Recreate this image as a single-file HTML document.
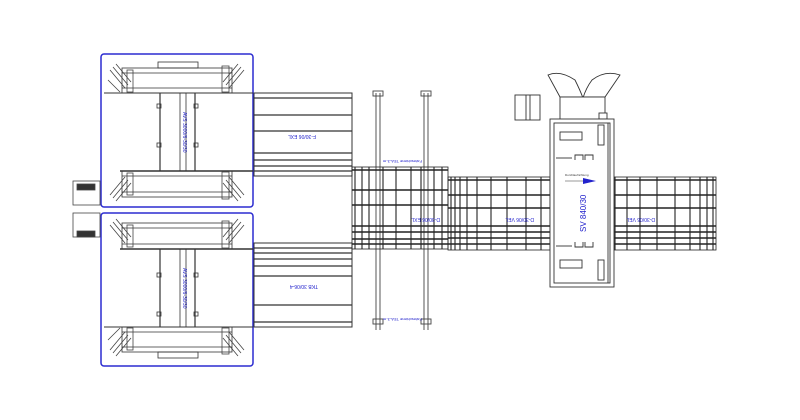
<!DOCTYPE html>
<html><head><meta charset="utf-8"><style>
html,body{margin:0;padding:0;background:#fff;width:800px;height:420px;overflow:hidden}
svg{display:block}
text{font-family:"Liberation Sans",sans-serif}
</style></head><body>
<svg width="800" height="420" viewBox="0 0 800 420" xmlns="http://www.w3.org/2000/svg">
<defs>
<g id="unit" fill="none" stroke="#333" stroke-width="0.8">
  <rect x="122" y="68" width="110" height="25"/>
  <line x1="122" y1="73" x2="232" y2="73"/>
  <line x1="122" y1="88" x2="232" y2="88"/>
  <rect x="158" y="62" width="40" height="6"/>
  <g stroke="#444">
    <path d="M110 70 L125 88 M113 67 L128 85 M116 64 L131 82 M108 80 L120 92"/>
    <rect x="127" y="70" width="6" height="22"/>
    <path d="M244 70 L229 88 M241 67 L226 85 M238 64 L223 82"/>
    <rect x="222" y="66" width="7" height="26"/>
  </g>
  <rect x="122" y="171" width="110" height="26"/>
  <line x1="122" y1="176" x2="232" y2="176"/>
  <line x1="122" y1="192" x2="232" y2="192"/>
  <line x1="120" y1="171" x2="253" y2="171" stroke-width="1.4"/>
  <g stroke="#444">
    <path d="M110 195 L125 177 M113 198 L128 180 M116 201 L131 183"/>
    <rect x="127" y="173" width="6" height="22"/>
    <path d="M244 195 L229 177 M241 198 L226 180 M238 201 L223 183"/>
    <rect x="222" y="172" width="7" height="27"/>
  </g>
  <line x1="160" y1="93" x2="160" y2="171" stroke-width="1.2"/>
  <line x1="180" y1="93" x2="180" y2="171"/>
  <line x1="186" y1="93" x2="186" y2="171"/>
  <line x1="195" y1="93" x2="195" y2="171" stroke-width="1.2"/>
  <rect x="157" y="104" width="4" height="4"/><rect x="157" y="143" width="4" height="4"/>
  <rect x="194" y="104" width="4" height="4"/><rect x="194" y="143" width="4" height="4"/>
  <line x1="104" y1="93" x2="253" y2="93" stroke-width="1"/>
</g>
</defs>

<rect x="101" y="54" width="152" height="153" rx="3" fill="none" stroke="#2b2bd0" stroke-width="1.5"/>
<use href="#unit"/>
<text x="0" y="0" transform="translate(183,112) rotate(90)" font-size="5" fill="#2222cc">AVS 3000/6-30/30</text>

<rect x="101" y="213" width="152" height="153" rx="3" fill="none" stroke="#2b2bd0" stroke-width="1.5"/>
<use href="#unit" transform="translate(0,420) scale(1,-1)"/>
<text x="0" y="0" transform="translate(183,268) rotate(90)" font-size="5" fill="#2222cc">AVS 3000/6-30/30</text>

<g fill="none" stroke="#444" stroke-width="0.8">
<rect x="73" y="181" width="27" height="24"/><rect x="77" y="184" width="18" height="6" fill="#333"/>
<rect x="73" y="213" width="27" height="24"/><rect x="77" y="231" width="18" height="6" fill="#333"/>
</g>

<g stroke="#333" fill="none">
<rect x="254" y="93" width="98" height="83" stroke-width="1"/>
<g stroke-width="1.3">
<line x1="254" y1="98" x2="352" y2="98"/><line x1="254" y1="115" x2="352" y2="115"/>
<line x1="254" y1="131" x2="352" y2="131"/><line x1="254" y1="153" x2="352" y2="153"/>
<line x1="254" y1="160" x2="352" y2="160"/><line x1="254" y1="166" x2="352" y2="166"/>
<line x1="254" y1="171" x2="352" y2="171"/>
</g>
<rect x="254" y="243" width="98" height="84" stroke-width="1"/>
<g stroke-width="1.3">
<line x1="254" y1="248" x2="352" y2="248"/><line x1="254" y1="253" x2="352" y2="253"/>
<line x1="254" y1="259" x2="352" y2="259"/><line x1="254" y1="266" x2="352" y2="266"/>
<line x1="254" y1="276" x2="352" y2="276"/><line x1="254" y1="305" x2="352" y2="305"/>
<line x1="254" y1="322" x2="352" y2="322"/>
</g>
</g>
<text transform="translate(316,135) rotate(180)" font-size="5" fill="#2222cc">F-30/06 EXL</text>
<text transform="translate(318,285) rotate(180)" font-size="5" fill="#2222cc">TKB 30/06-4</text>

<g stroke="#444" fill="none" stroke-width="0.9">
<line x1="376" y1="93" x2="376" y2="330"/><line x1="380" y1="93" x2="380" y2="330"/>
<line x1="424" y1="93" x2="424" y2="330"/><line x1="428" y1="93" x2="428" y2="330"/>
<rect x="373" y="91" width="10" height="5"/><rect x="421" y="91" width="10" height="5"/>
<rect x="373" y="319" width="10" height="5"/><rect x="421" y="319" width="10" height="5"/>
</g>
<text transform="translate(422,160) rotate(180)" font-size="4" fill="#2222cc">Fahrschiene TEA-3-m</text>
<text transform="translate(422,318) rotate(180)" font-size="4" fill="#2222cc">Fahrschiene TEA-3-m</text>

<g stroke="#222" fill="none">
<rect x="352" y="167" width="96" height="82" stroke-width="0.8"/>
<g stroke-width="1.1">
<line x1="355" y1="167" x2="355" y2="249"/><line x1="362" y1="167" x2="362" y2="249"/><line x1="369" y1="167" x2="369" y2="249"/>
<line x1="383" y1="167" x2="383" y2="249"/><line x1="396" y1="167" x2="396" y2="249"/><line x1="411" y1="167" x2="411" y2="249"/>
<line x1="421" y1="167" x2="421" y2="249"/><line x1="434" y1="167" x2="434" y2="249"/><line x1="442" y1="167" x2="442" y2="249"/>
</g>
<g stroke-width="1.6">
<line x1="352" y1="170" x2="448" y2="170"/><line x1="352" y1="190" x2="448" y2="190"/><line x1="352" y1="205" x2="448" y2="205"/>
<line x1="352" y1="226" x2="448" y2="226"/><line x1="352" y1="232" x2="448" y2="232"/><line x1="352" y1="239" x2="448" y2="239"/><line x1="352" y1="244" x2="448" y2="244"/>
</g>
<rect x="448" y="177" width="102" height="73" stroke-width="0.8"/>
<g stroke-width="1.1">
<line x1="451" y1="177" x2="451" y2="250"/><line x1="455" y1="177" x2="455" y2="250"/><line x1="460" y1="177" x2="460" y2="250"/>
<line x1="467" y1="177" x2="467" y2="250"/><line x1="477" y1="177" x2="477" y2="250"/><line x1="491" y1="177" x2="491" y2="250"/>
<line x1="507" y1="177" x2="507" y2="250"/><line x1="526" y1="177" x2="526" y2="250"/><line x1="541" y1="177" x2="541" y2="250"/>
</g>
<g stroke-width="1.6">
<line x1="448" y1="180" x2="550" y2="180"/><line x1="448" y1="195" x2="550" y2="195"/><line x1="448" y1="208" x2="550" y2="208"/>
<line x1="448" y1="226" x2="550" y2="226"/><line x1="448" y1="232" x2="550" y2="232"/><line x1="448" y1="238" x2="550" y2="238"/><line x1="448" y1="244" x2="550" y2="244"/>
</g>
<rect x="612" y="177" width="104" height="73" stroke-width="0.8"/>
<g stroke-width="1.1">
<line x1="615" y1="177" x2="615" y2="250"/><line x1="627" y1="177" x2="627" y2="250"/><line x1="640" y1="177" x2="640" y2="250"/>
<line x1="657" y1="177" x2="657" y2="250"/><line x1="675" y1="177" x2="675" y2="250"/><line x1="690" y1="177" x2="690" y2="250"/>
<line x1="700" y1="177" x2="700" y2="250"/><line x1="707" y1="177" x2="707" y2="250"/><line x1="713" y1="177" x2="713" y2="250"/>
</g>
<g stroke-width="1.6">
<line x1="612" y1="180" x2="716" y2="180"/><line x1="612" y1="195" x2="716" y2="195"/><line x1="612" y1="208" x2="716" y2="208"/>
<line x1="612" y1="226" x2="716" y2="226"/><line x1="612" y1="232" x2="716" y2="232"/><line x1="612" y1="238" x2="716" y2="238"/><line x1="612" y1="244" x2="716" y2="244"/>
</g>
</g>
<text transform="translate(440,218) rotate(180)" font-size="5" fill="#2222cc">D-30/06 EXL</text>
<text transform="translate(534,218) rotate(180)" font-size="5" fill="#2222cc">D-30/06 VEL</text>
<text transform="translate(655,218) rotate(180)" font-size="5" fill="#2222cc">D-30/06 VEL</text>

<g stroke="#333" fill="#fff" stroke-width="0.9">
<path d="M548 75 Q560 70 575 80 Q580 90 583 98 Q586 88 592 80 Q605 70 620 75 L605 97 L560 97 Z"/>
<rect x="560" y="97" width="45" height="23"/>
<rect x="599" y="113" width="8" height="6"/>
<rect x="550" y="119" width="64" height="168"/>
<rect x="554" y="123" width="56" height="160" fill="none"/>
<line x1="608" y1="123" x2="608" y2="283"/>
<rect x="560" y="132" width="22" height="8" fill="none"/>
<rect x="560" y="260" width="22" height="8" fill="none"/>
<rect x="598" y="125" width="6" height="20" fill="none"/>
<rect x="598" y="260" width="6" height="20" fill="none"/>
<path d="M575 160 L575 155 L583 155 L583 160 M585 160 L585 155 L593 155 L593 160" fill="none"/>
<path d="M575 242 L575 247 L583 247 L583 242 M585 242 L585 247 L593 247 L593 242" fill="none"/>
<line x1="556" y1="158" x2="572" y2="158"/><line x1="556" y1="246" x2="572" y2="246"/>
<rect x="515" y="95" width="25" height="25"/>
<line x1="526" y1="95" x2="526" y2="120"/><line x1="530" y1="95" x2="530" y2="120"/>
</g>
<line x1="565" y1="181" x2="588" y2="181" stroke="#333" stroke-width="0.6"/>
<path d="M583 178 L596 181 L583 184 Z" fill="#2222cc"/>
<text x="565" y="176" font-size="3" fill="#333">Durchlaufrichtung</text>
<text x="0" y="0" transform="translate(586,232) rotate(-90)" font-size="8" fill="#2222cc">SV 840/30</text>
</svg>
</body></html>
